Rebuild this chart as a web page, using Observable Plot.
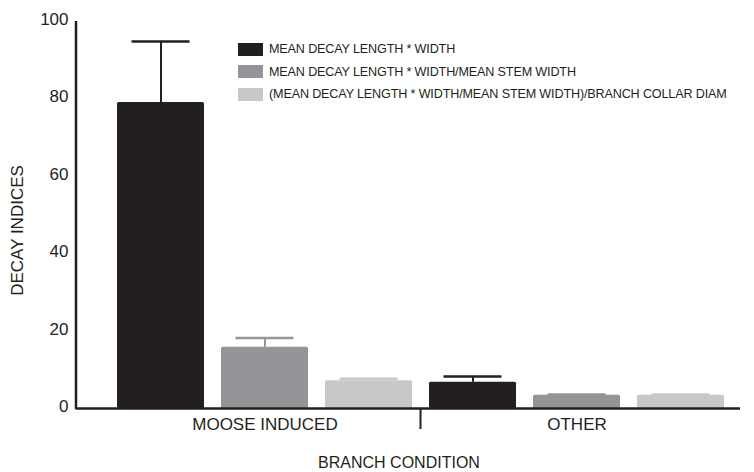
<!DOCTYPE html>
<html><head><meta charset="utf-8">
<script src="https://cdn.jsdelivr.net/npm/d3@7"></script>
<script src="https://cdn.jsdelivr.net/npm/@observablehq/plot@0.6"></script>
<style>
body{margin:0;background:#fff;}
#wrap{position:relative;width:754px;height:472px;font-family:"Liberation Sans",Arial,sans-serif;}
#legend{position:absolute;left:238px;top:38px;}
.row{display:flex;align-items:center;height:22.5px;font-size:12.6px;letter-spacing:-0.15px;color:#231f20;white-space:nowrap;}
.sw{width:25px;height:13px;margin-right:6px;flex:none;}
</style></head><body><div id="wrap"><div id="legend"></div></div>
<script>
const conditions = ["MOOSE INDUCED", "OTHER"];
const series = [
  "MEAN DECAY LENGTH * WIDTH",
  "MEAN DECAY LENGTH * WIDTH/MEAN STEM WIDTH",
  "(MEAN DECAY LENGTH * WIDTH/MEAN STEM WIDTH)/BRANCH COLLAR DIAM"
];
const mooseValues = [79.1, 15.8, 7.2];
const mooseErrors = [15.7, 2.4, 0.5];
const otherValues = [6.8, 3.4, 3.4];
const otherErrors = [1.5, 0.2, 0.2];
const colors = ["#231f20", "#939598", "#c7c8ca"];
const yTicks = [0, 20, 40, 60, 80, 100];
const yTitle = "DECAY INDICES";
const xTitle = "BRANCH CONDITION";

const valuesBy = [mooseValues, otherValues];
const errorsBy = [mooseErrors, otherErrors];
const rows = [];
conditions.forEach((c, ci) => series.forEach((s, si) => rows.push({
  key: c + "|" + si, condition: c, series: s,
  value: valuesBy[ci][si], error: errorsBy[ci][si]
})));
const keys = rows.map(d => d.key);
const groupLabels = conditions.map(c => ({label: c, key: c + "|1"}));
const ink = "#231f20";
const font = "'Liberation Sans', Arial, sans-serif";

const plot = Plot.plot({
  width: 754, height: 472,
  marginLeft: 76, marginRight: 14, marginTop: 21, marginBottom: 64,
  style: {fontFamily: font, fontSize: "17px", color: ink, background: "transparent"},
  x: {domain: keys, range: [116, 724], paddingInner: 0.164, paddingOuter: 0, axis: null},
  y: {domain: [0, 100], axis: null},
  color: {domain: series, range: colors},
  marks: [
    Plot.ruleX(rows, {x: "key", y1: "value", y2: d => d.value + d.error, stroke: "series", strokeWidth: 2}),
    Plot.tickY(rows, {x: "key", y: d => d.value + d.error, stroke: "series", strokeWidth: 2.5, insetLeft: 14.5, insetRight: 14.5}),
    Plot.barY(rows, {x: "key", y: "value", fill: "series", rx: 1.5}),
    Plot.ruleY([0], {stroke: ink, strokeWidth: 2.5}),
    Plot.axisY(yTicks, {tickSize: 0, tickPadding: 8, label: null, fontSize: 17, dy: -2}),
    Plot.text(groupLabels, {x: "key", y: 0, text: "label", dy: 16, fontSize: 17, fill: ink})
  ]
});

const svg = d3.select(plot);
const ys = plot.scale("y"), xs = plot.scale("x");
// y axis line
svg.append("line").attr("x1", 76).attr("x2", 76)
  .attr("y1", ys.apply(100)).attr("y2", ys.apply(0) + 1.25)
  .attr("stroke", ink).attr("stroke-width", 2.5);
// group divider tick
const bw = xs.bandwidth;
const xd = (xs.apply(keys[2]) + bw + xs.apply(keys[3])) / 2;
svg.append("line").attr("x1", xd).attr("x2", xd)
  .attr("y1", ys.apply(0)).attr("y2", ys.apply(0) + 21)
  .attr("stroke", ink).attr("stroke-width", 2);
// titles
svg.append("text").text(yTitle)
  .attr("transform", `translate(19,${(ys.apply(100) + ys.apply(0)) / 2 + 16}) rotate(-90)`)
  .attr("text-anchor", "middle").attr("dominant-baseline", "middle")
  .attr("font-size", 17).attr("fill", ink).attr("font-family", font);
svg.append("text").text(xTitle)
  .attr("x", 399).attr("y", 464)
  .attr("text-anchor", "middle").attr("dominant-baseline", "middle")
  .attr("font-size", 16).attr("fill", ink).attr("font-family", font);

document.getElementById("wrap").prepend(plot);

const lg = d3.select("#legend");
series.forEach((s, i) => {
  const r = lg.append("div").attr("class", "row");
  r.append("div").attr("class", "sw").style("background", colors[i]);
  r.append("span").text(s);
});
</script></body></html>
